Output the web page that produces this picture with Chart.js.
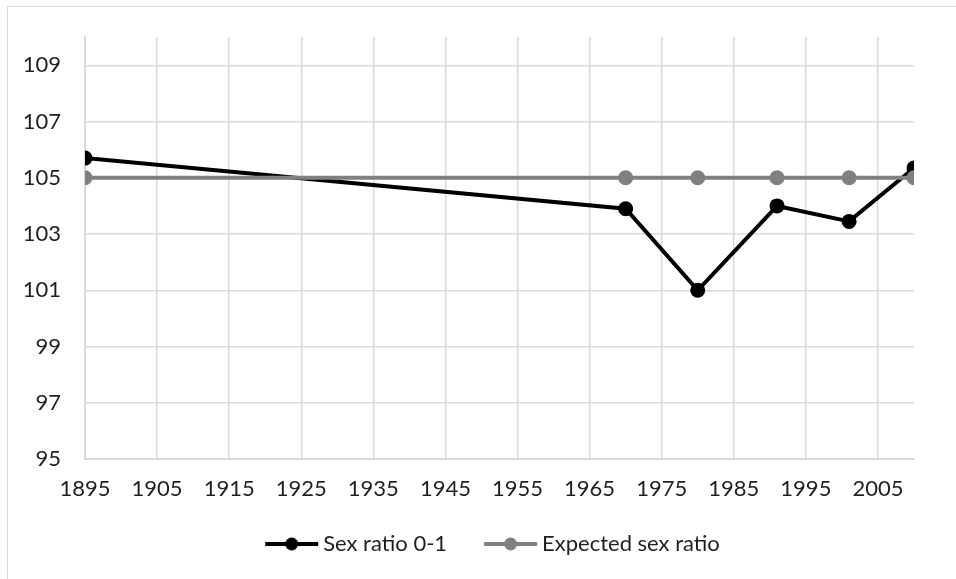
<!DOCTYPE html>
<html>
<head>
<meta charset="utf-8">
<script src="https://cdn.jsdelivr.net/npm/chart.js@4/dist/chart.umd.min.js"></script>
<style>
    html, body { margin: 0; padding: 0; background: #ffffff; }
    #wrap { width: 956px; height: 579px; position: relative; }
</style>
</head>
<body>
<div id="wrap"><canvas id="ratio-chart"></canvas></div>
<script>
// census years and values
var years = [1895, 1970, 1980, 1991, 2001, 2010];
var sexRatio = [105.7, 103.9, 101.0, 104.0, 103.45, 105.35];
var expectedRatio = [105, 105, 105, 105, 105, 105];

var xTicks = [1895, 1905, 1915, 1925, 1935, 1945, 1955, 1965, 1975, 1985, 1995, 2005];
var yTicks = [95, 97, 99, 101, 103, 105, 107, 109];

var seriesNames = ["Sex ratio 0-1", "Expected sex ratio"];

function toPoints(values) {
    var pts = [];
    for (var i = 0; i < years.length; i++) {
        pts.push({ x: years[i], y: values[i] });
    }
    return pts;
}

// line + dot picture for the legend (wider canvas so the text sits close to it)
function legendIcon(color) {
    var c = document.createElement("canvas");
    c.width = 110;
    c.height = 14;
    var g = c.getContext("2d");
    g.strokeStyle = color;
    g.lineWidth = 4;
    g.beginPath();
    g.moveTo(32, 7);
    g.lineTo(85, 7);
    g.stroke();
    g.fillStyle = color;
    g.beginPath();
    g.arc(58.5, 7, 6.5, 0, Math.PI * 2);
    g.fill();
    return c;
}

var frame = {
    id: "frame",
    beforeDraw: function (chart) {
        var ctx = chart.ctx;
        ctx.save();
        ctx.strokeStyle = "#d9d9d9";
        ctx.lineWidth = 1;
        ctx.strokeRect(7.5, 6.5, 1200, 1200);
        ctx.restore();
    }
};

// legend in the reference is centred under the plot area, not the whole canvas
var legendShift = {
    id: "legendShift",
    afterLayout: function (chart) {
        var lg = chart.legend;
        if (lg) {
            lg.left += 35;
            lg.right += 35;
        }
    }
};

var ctx = document.getElementById("ratio-chart").getContext("2d");
var labelColor = "#1f1f1f";
var fontSpec = { family: "Lato", size: 22 };

var myChart = new Chart(ctx, {
    type: "scatter",
    data: {
        datasets: [
            {
                label: seriesNames[1],
                data: toPoints(expectedRatio),
                showLine: true,
                borderColor: "#808080",
                backgroundColor: "#808080",
                borderWidth: 4,
                pointRadius: 7.5,
                pointHoverRadius: 7.5,
                pointBorderWidth: 0
            },
            {
                label: seriesNames[0],
                data: toPoints(sexRatio),
                showLine: true,
                borderColor: "#000000",
                backgroundColor: "#000000",
                borderWidth: 4,
                pointRadius: 7.5,
                pointHoverRadius: 7.5,
                pointBorderWidth: 0
            }
        ]
    },
    options: {
        responsive: true,
        maintainAspectRatio: false,
        animation: false,
        layout: {
            padding: { top: 35, right: 42, bottom: 14, left: 0 }
        },
        plugins: {
            tooltip: { enabled: false },
            legend: {
                position: "bottom",
                reverse: true,
                labels: {
                    color: labelColor,
                    font: fontSpec,
                    usePointStyle: true,
                    pointStyleWidth: 48,
                    padding: 36,
                    generateLabels: function (chart) {
                        var items = Chart.defaults.plugins.legend.labels.generateLabels(chart);
                        items.forEach(function (it) {
                            var ds = chart.data.datasets[it.datasetIndex];
                            it.pointStyle = legendIcon(ds.borderColor);
                        });
                        return items;
                    }
                }
            }
        },
        scales: {
            x: {
                type: "linear",
                min: 1895,
                max: 2010,
                afterBuildTicks: function (scale) {
                    scale.ticks = xTicks.map(function (v) { return { value: v }; });
                },
                afterFit: function (scale) {
                    scale.height = 38;
                },
                grid: {
                    color: "#d9d9d9",
                    lineWidth: 1.5,
                    drawTicks: false
                },
                border: { color: "#d9d9d9", width: 2 },
                ticks: {
                    color: labelColor,
                    padding: 17,
                    maxRotation: 0,
                    autoSkip: false,
                    font: fontSpec,
                    callback: function (v) { return String(v); }
                }
            },
            y: {
                min: 95,
                max: 110,
                afterBuildTicks: function (scale) {
                    scale.ticks = yTicks.map(function (v) { return { value: v }; });
                },
                afterFit: function (scale) {
                    scale.width = 85;
                },
                grid: {
                    color: "#d9d9d9",
                    lineWidth: 1.5,
                    drawTicks: false
                },
                border: { color: "#d9d9d9", width: 2 },
                ticks: {
                    color: labelColor,
                    padding: 24,
                    autoSkip: false,
                    font: fontSpec
                }
            }
        }
    },
    plugins: [frame, legendShift]
});
</script>
</body>
</html>
